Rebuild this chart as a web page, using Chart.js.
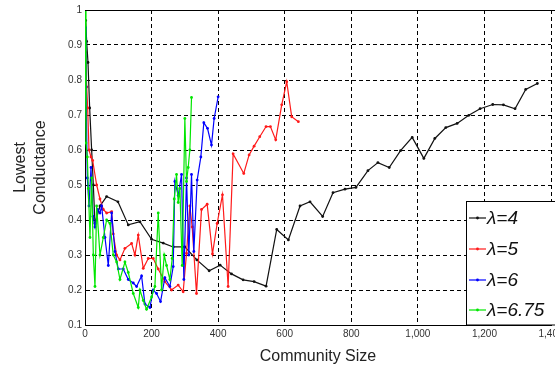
<!DOCTYPE html>
<html>
<head>
<meta charset="utf-8">
<script src="https://cdn.jsdelivr.net/npm/chart.js@4/dist/chart.umd.min.js"></script>
<style>
    html, body { margin: 0; padding: 0; background: #fff; overflow: hidden; }
    #wrap { position: relative; width: 555px; height: 366px; }
</style>
</head>
<body>
<div id="wrap"><canvas id="condChart"></canvas></div>
<script>
// community size (x) and lowest conductance (y), one pair of arrays per lambda
const sizeL4 = [2, 5, 9, 14, 20, 25, 30, 45, 65, 99, 130, 165, 200, 235, 265, 300, 336, 373, 406, 440, 475, 508, 544, 576, 611, 646, 676, 714, 745, 781, 814, 850, 880, 914, 948, 983, 1018, 1051, 1084, 1118, 1153, 1187, 1225, 1257, 1292, 1324, 1359];
const condL4 = [0.97, 0.91, 0.85, 0.72, 0.6, 0.5, 0.39, 0.44, 0.467, 0.452, 0.386, 0.395, 0.345, 0.334, 0.323, 0.323, 0.286, 0.255, 0.271, 0.246, 0.229, 0.224, 0.211, 0.373, 0.343, 0.44, 0.452, 0.41, 0.478, 0.488, 0.493, 0.541, 0.564, 0.55, 0.598, 0.636, 0.576, 0.633, 0.664, 0.676, 0.699, 0.718, 0.73, 0.729, 0.718, 0.773, 0.79];

const sizeL5 = [2, 5, 8, 12, 18, 23, 35, 45, 55, 65, 80, 85, 95, 105, 120, 140, 150, 160, 175, 190, 205, 220, 240, 260, 280, 295, 305, 315, 322, 335, 350, 367, 383, 397, 413, 430, 445, 477, 493, 508, 525, 544, 557, 573, 591, 606, 621, 641];
const condL5 = [0.88, 0.78, 0.72, 0.6, 0.58, 0.57, 0.5, 0.46, 0.43, 0.42, 0.424, 0.36, 0.3, 0.286, 0.319, 0.333, 0.3, 0.357, 0.262, 0.29, 0.29, 0.26, 0.224, 0.2, 0.214, 0.195, 0.305, 0.44, 0.38, 0.19, 0.43, 0.445, 0.303, 0.39, 0.472, 0.21, 0.589, 0.533, 0.586, 0.611, 0.638, 0.667, 0.667, 0.629, 0.729, 0.795, 0.695, 0.681];

const sizeL6 = [1, 3, 7, 12, 18, 24, 30, 38, 45, 50, 60, 70, 80, 90, 100, 115, 130, 145, 155, 170, 180, 195, 205, 215, 227, 240, 255, 265, 270, 280, 290, 297, 305, 312, 320, 327, 337, 348, 357, 368, 380, 388, 400];
const condL6 = [0.95, 0.78, 0.52, 0.44, 0.55, 0.41, 0.38, 0.43, 0.42, 0.44, 0.35, 0.27, 0.42, 0.31, 0.26, 0.26, 0.23, 0.22, 0.21, 0.24, 0.16, 0.15, 0.2, 0.19, 0.167, 0.235, 0.21, 0.267, 0.51, 0.47, 0.53, 0.23, 0.52, 0.3, 0.53, 0.31, 0.514, 0.58, 0.678, 0.662, 0.614, 0.69, 0.752];

const sizeL675 = [0, 3, 7, 10, 15, 20, 25, 30, 35, 45, 55, 65, 75, 85, 95, 105, 120, 130, 145, 160, 165, 175, 185, 200, 210, 220, 230, 238, 245, 255, 262, 268, 275, 280, 285, 292, 300, 305, 310, 315, 320];
const condL675 = [1.0, 0.62, 0.58, 0.49, 0.35, 0.52, 0.3, 0.21, 0.44, 0.3, 0.35, 0.4, 0.39, 0.3, 0.28, 0.23, 0.28, 0.25, 0.19, 0.15, 0.2, 0.17, 0.145, 0.18, 0.21, 0.42, 0.2, 0.3, 0.27, 0.23, 0.29, 0.46, 0.53, 0.45, 0.49, 0.27, 0.69, 0.51, 0.55, 0.6, 0.75];

const seriesLabels = ['λ=4', 'λ=5', 'λ=6', 'λ=6.75'];
const seriesColors = ['#111111', '#ff1a1a', '#0000ff', '#00e600'];

const xTicks = [0, 200, 400, 600, 800, 1000, 1200, 1400];
const yTicks = [0.1, 0.2, 0.3, 0.4, 0.5, 0.6, 0.7, 0.8, 0.9, 1];

function toPoints(xs, ys) {
    return xs.map((x, i) => ({ x: x, y: ys[i] }));
}

function makeDataset(i, xs, ys) {
    return {
        label: seriesLabels[i],
        data: toPoints(xs, ys),
        borderColor: seriesColors[i],
        backgroundColor: seriesColors[i],
        borderWidth: 1.2,
        pointRadius: 1.4,
        pointBorderWidth: 0,
        pointBackgroundColor: seriesColors[i],
        tension: 0,
        fill: false,
        order: 4 - i
    };
}

// axis titles, top frame line and the boxed legend
const decorPlugin = {
    id: 'decor',
    afterDraw(chart) {
        const ctx = chart.ctx;
        const area = chart.chartArea;
        ctx.save();

        ctx.strokeStyle = '#000';
        ctx.lineWidth = 1;
        ctx.beginPath();
        ctx.moveTo(area.left, area.top + 0.5);
        ctx.lineTo(chart.width, area.top + 0.5);
        ctx.stroke();

        ctx.fillStyle = '#222';
        ctx.font = '16px Arial, "Liberation Sans", sans-serif';
        ctx.textAlign = 'center';
        ctx.textBaseline = 'middle';
        ctx.fillText('Community Size', (area.left + area.right) / 2, 357);

        const midY = (area.top + area.bottom) / 2;
        ctx.save();
        ctx.translate(21, midY);
        ctx.rotate(-Math.PI / 2);
        ctx.fillText('Lowest', 0, 0);
        ctx.restore();
        ctx.save();
        ctx.translate(41, midY);
        ctx.rotate(-Math.PI / 2);
        ctx.fillText('Conductance', 0, 0);
        ctx.restore();

        // legend box
        const bx = 466.5, by = 201.5;
        ctx.fillStyle = '#fff';
        ctx.fillRect(bx, by, chart.width - bx + 5, area.bottom - by);
        ctx.strokeStyle = '#000';
        ctx.strokeRect(bx, by, chart.width - bx + 5, area.bottom - by);

        const rowY = [218, 249, 280, 310];
        chart.data.datasets.forEach((ds, i) => {
            const y = rowY[i];
            ctx.strokeStyle = ds.borderColor;
            ctx.lineWidth = 1.2;
            ctx.beginPath();
            ctx.moveTo(469, y);
            ctx.lineTo(486, y);
            ctx.stroke();
            ctx.fillStyle = ds.borderColor;
            ctx.beginPath();
            ctx.arc(477.5, y, 1.4, 0, Math.PI * 2);
            ctx.fill();
            ctx.fillStyle = '#111';
            ctx.font = 'italic 19px Arial, "Liberation Sans", sans-serif';
            ctx.textAlign = 'left';
            ctx.textBaseline = 'middle';
            ctx.fillText(ds.label, 487, y + 1);
        });
        ctx.restore();
    }
};

const ctx = document.getElementById('condChart').getContext('2d');
const condChart = new Chart(ctx, {
    type: 'line',
    data: {
        datasets: [
            makeDataset(0, sizeL4, condL4),
            makeDataset(1, sizeL5, condL5),
            makeDataset(2, sizeL6, condL6),
            makeDataset(3, sizeL675, condL675)
        ]
    },
    options: {
        responsive: true,
        maintainAspectRatio: false,
        animation: false,
        layout: {
            padding: { top: 10, right: 4, left: 0, bottom: 0 }
        },
        plugins: {
            legend: { display: false },
            tooltip: { enabled: false }
        },
        scales: {
            x: {
                type: 'linear',
                min: 0,
                max: 1400,
                afterBuildTicks: function(scale) {
                    scale.ticks = xTicks.map(v => ({ value: v }));
                },
                afterFit: function(scale) {
                    scale.height = 41;
                    scale.paddingLeft = 0;
                    scale.paddingRight = 0;
                },
                grid: {
                    color: '#000',
                    lineWidth: 1,
                    drawTicks: false
                },
                border: { display: true, color: '#000', width: 1, dash: [4, 3] },
                ticks: {
                    padding: 3,
                    maxRotation: 0,
                    autoSkip: false,
                    color: '#333',
                    font: { family: 'Arial, "Liberation Sans", sans-serif', size: 10 },
                    callback: function(value) {
                        return value.toLocaleString('en-US');
                    }
                }
            },
            y: {
                type: 'linear',
                min: 0.1,
                max: 1,
                afterBuildTicks: function(scale) {
                    scale.ticks = yTicks.map(v => ({ value: v }));
                },
                afterFit: function(scale) {
                    scale.width = 85;
                },
                grid: {
                    color: '#000',
                    lineWidth: 1,
                    drawTicks: false
                },
                border: { display: true, color: '#000', width: 1, dash: [4, 3] },
                ticks: {
                    padding: 3,
                    autoSkip: false,
                    color: '#333',
                    font: { family: 'Arial, "Liberation Sans", sans-serif', size: 10 },
                    callback: function(value) {
                        return String(Math.round(value * 10) / 10);
                    }
                }
            }
        }
    },
    plugins: [decorPlugin]
});
</script>
</body>
</html>
